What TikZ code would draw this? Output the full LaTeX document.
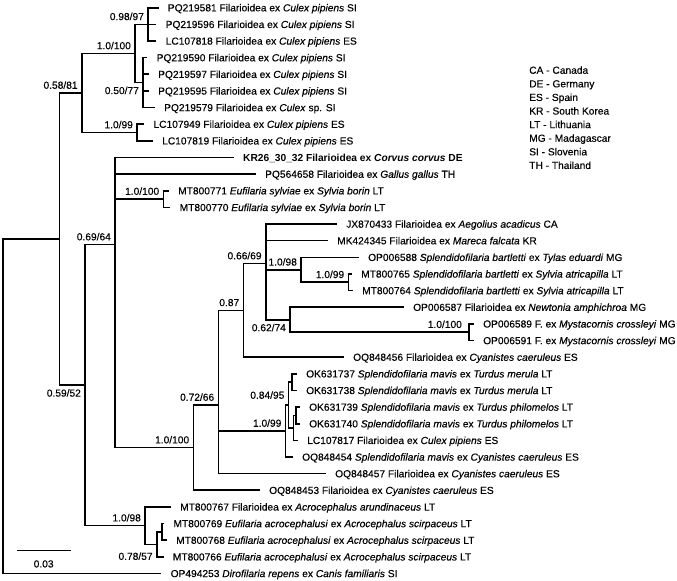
\documentclass[tikz,border=0pt]{standalone}
\usepackage{fontspec}
\setmainfont{Liberation Sans}[UprightFeatures={FakeBold=0.3}, ItalicFeatures={FakeBold=0.3}]
\usepackage{tikz}

\newcommand\lblfont{\fontsize{10.2}{13.6}\selectfont}

\begin{document}
\begin{tikzpicture}[x=1pt, y=-16.64pt,
    br/.style={line width=1.6pt, line cap=rect},
    leaf/.style={anchor=west, inner xsep=10pt, inner ysep=0pt, text height=7.3pt, text depth=0pt, font=\lblfont},
    bs/.style={font=\lblfont}]
    \useasboundingbox (0,0.537) rectangle (677,35.45);

    % tips
    \node[leaf] (l1) at (157.7,1) {PQ219581 Filarioidea ex \textit{Culex pipiens} SI};
    \node[leaf] (l2) at (155.5,2) {PQ219596 Filarioidea ex \textit{Culex pipiens} SI};
    \node[leaf] (l3) at (155.5,3) {LC107818 Filarioidea ex \textit{Culex pipiens} ES};
    \node[leaf] (l4) at (146.5,4) {PQ219590 Filarioidea ex \textit{Culex pipiens} SI};
    \node[leaf] (l5) at (148,5) {PQ219597 Filarioidea ex \textit{Culex pipiens} SI};
    \node[leaf] (l6) at (148,6) {PQ219595 Filarioidea ex \textit{Culex pipiens} SI};
    \node[leaf] (l7) at (154,7) {PQ219579 Filarioidea ex \textit{Culex} sp. SI};
    \node[leaf] (l8) at (143.3,8) {LC107949 Filarioidea ex \textit{Culex pipiens} ES};
    \node[leaf] (l9) at (152,9) {LC107819 Filarioidea ex \textit{Culex pipiens} ES};
    \node[leaf] (l10) at (233,10) {\textbf{KR26\_30\_32 Filarioidea ex \textit{Corvus corvus} DE}};
    \node[leaf] (l11) at (255,11) {PQ564658 Filarioidea ex \textit{Gallus gallus} TH};
    \node[leaf] (l12) at (168,12) {MT800771 \textit{Eufilaria sylviae} ex \textit{Sylvia borin} LT};
    \node[leaf] (l13) at (169.5,13) {MT800770 \textit{Eufilaria sylviae} ex \textit{Sylvia borin} LT};
    \node[leaf] (l14) at (336,14) {JX870433 Filarioidea ex \textit{Aegolius acadicus} CA};
    \node[leaf] (l15) at (327,15) {MK424345 Filarioidea ex \textit{Mareca falcata} KR};
    \node[leaf] (l16) at (358,16) {OP006588 \textit{Splendidofilaria bartletti} ex \textit{Tylas eduardi} MG};
    \node[leaf] (l17) at (351,17) {MT800765 \textit{Splendidofilaria bartletti} ex \textit{Sylvia atricapilla} LT};
    \node[leaf] (l18) at (352,18) {MT800764 \textit{Splendidofilaria bartletti} ex \textit{Sylvia atricapilla} LT};
    \node[leaf] (l19) at (403,19) {OP006587 Filarioidea ex \textit{Newtonia amphichroa} MG};
    \node[leaf] (l20) at (473,20) {OP006589 F. ex \textit{Mystacornis crossleyi} MG};
    \node[leaf] (l21) at (473,21) {OP006591 F. ex \textit{Mystacornis crossleyi} MG};
    \node[leaf] (l22) at (343,22) {OQ848456 Filarioidea ex \textit{Cyanistes caeruleus} ES};
    \node[leaf] (l23) at (296,23) {OK631737 \textit{Splendidofilaria mavis} ex \textit{Turdus merula} LT};
    \node[leaf] (l24) at (296,24) {OK631738 \textit{Splendidofilaria mavis} ex \textit{Turdus merula} LT};
    \node[leaf] (l25) at (299,25) {OK631739 \textit{Splendidofilaria mavis} ex \textit{Turdus philomelos} LT};
    \node[leaf] (l26) at (299,26) {OK631740 \textit{Splendidofilaria mavis} ex \textit{Turdus philomelos} LT};
    \node[leaf] (l27) at (297,27) {LC107817 Filarioidea ex \textit{Culex pipiens} ES};
    \node[leaf] (l28) at (292,28) {OQ848454 \textit{Splendidofilaria mavis} ex \textit{Cyanistes caeruleus} ES};
    \node[leaf] (l29) at (325,29) {OQ848457 Filarioidea ex \textit{Cyanistes caeruleus} ES};
    \node[leaf] (l30) at (259,30) {OQ848453 Filarioidea ex \textit{Cyanistes caeruleus} ES};
    \node[leaf] (l31) at (170,31) {MT800767 Filarioidea ex \textit{Acrocephalus arundinaceus} LT};
    \node[leaf] (l32) at (163.3,32) {MT800769 \textit{Eufilaria acrocephalusi} ex \textit{Acrocephalus scirpaceus} LT};
    \node[leaf] (l33) at (166,33) {MT800768 \textit{Eufilaria acrocephalusi} ex \textit{Acrocephalus scirpaceus} LT};
    \node[leaf] (l34) at (162.7,34) {MT800766 \textit{Eufilaria acrocephalusi} ex \textit{Acrocephalus scirpaceus} LT};
    \node[leaf] (l35) at (160.5,35) {OP494253 \textit{Dirofilaria repens} ex \textit{Canis familiaris} SI};

    % inner nodes (y = mean of the children)
    \coordinate (nE) at (148,2);
    \coordinate (nF) at (143,5.5);
    \coordinate (nC) at (135,3.75);
    \coordinate (nD) at (137,8.5);
    \coordinate (nB) at (81.7,6.125);
    \coordinate (nI) at (163.3,12.5);
    \coordinate (nR) at (348.3,17.5);
    \coordinate (nP) at (301,16.75);
    \coordinate (nS) at (469,20.5);
    \coordinate (nQ) at (290,19.75);
    \coordinate (nO) at (265.7,16.375);
    \coordinate (nM) at (243.3,19.1875);
    \coordinate (nU) at (291.7,23.5);
    \coordinate (nW) at (295.7,25.5);
    \coordinate (nX) at (293.5,26.25);
    \coordinate (nT) at (288.5,24.875);
    \coordinate (nN) at (285.5,26.4375);
    \coordinate (nL) at (218.3,24.875);
    \coordinate (nJ) at (193.3,27.4375);
    \coordinate (nH) at (115,15.234);
    \coordinate (nAA) at (161.7,32.5);
    \coordinate (nZ) at (156.7,33.25);
    \coordinate (nK) at (145,32.125);
    \coordinate (nG) at (85,23.68);
    \coordinate (nA) at (59.3,14.9);
    \coordinate (root) at (3,24.95);

    % Culex clade
    \draw[br] (nE |- l1.west) -- (nE |- l3.west) (nE |- l1.west) -- (l1.west) (nE |- l2.west) -- (l2.west) (nE |- l3.west) -- (l3.west);
    \draw[br] (nF |- l4.west) -- (nF |- l7.west) (nF |- l4.west) -- (l4.west) (nF |- l5.west) -- (l5.west) (nF |- l6.west) -- (l6.west) (nF |- l7.west) -- (l7.west);
    \draw[br] (nC |- nE) -- (nC |- nF) (nC |- nE) -- (nE) node[bs, above left] {0.98/97} (nC |- nF) -- (nF) node[bs, below left] {0.50/77};
    \draw[br] (nD |- l8.west) -- (nD |- l9.west) (nD |- l8.west) -- (l8.west) (nD |- l9.west) -- (l9.west);
    \draw[br] (nB |- nC) -- (nB |- nD) (nB |- nC) -- (nC) node[bs, above left] {1.0/100} (nB |- nD) -- (nD) node[bs, above left] {1.0/99};

    % bird clade
    \draw[br] (nI |- l12.west) -- (nI |- l13.west) (nI |- l12.west) -- (l12.west) (nI |- l13.west) -- (l13.west);
    \draw[br] (nR |- l17.west) -- (nR |- l18.west) (nR |- l17.west) -- (l17.west) (nR |- l18.west) -- (l18.west);
    \draw[br] (nP |- l16.west) -- (nP |- nR) (nP |- l16.west) -- (l16.west) (nP |- nR) -- (nR) node[bs, above left] {1.0/99};
    \draw[br] (nS |- l20.west) -- (nS |- l21.west) (nS |- l20.west) -- (l20.west) (nS |- l21.west) -- (l21.west);
    \draw[br] (nQ |- l19.west) -- (nQ |- nS) (nQ |- l19.west) -- (l19.west) (nQ |- nS) -- (nS) node[bs, above left, xshift=-3pt] {1.0/100};
    \draw[br] (nO |- l14.west) -- (nO |- nQ) (nO |- l14.west) -- (l14.west) (nO |- l15.west) -- (l15.west)
        (nO |- nP) -- (nP) node[bs, above left] {1.0/98} (nO |- nQ) -- (nQ) node[bs, below left] {0.62/74};
    \draw[br] (nM |- nO) -- (nM |- l22.west) (nM |- nO) -- (nO) node[bs, above left] {0.66/69} (nM |- l22.west) -- (l22.west);
    \draw[br] (nU |- l23.west) -- (nU |- l24.west) (nU |- l23.west) -- (l23.west) (nU |- l24.west) -- (l24.west);
    \draw[br] (nW |- l25.west) -- (nW |- l26.west) (nW |- l25.west) -- (l25.west) (nW |- l26.west) -- (l26.west);
    \draw[br] (nX |- nW) -- (nX |- l27.west) (nX |- nW) -- (nW) (nX |- l27.west) -- (l27.west);
    \draw[br] (nT |- nU) -- (nT |- nX) (nT |- nU) -- (nU) (nT |- nX) -- (nX);
    \draw[br] (nN |- nT) -- (nN |- l28.west) (nN |- nT) -- (nT) node[bs, above left, yshift=2pt] {0.84/95} (nN |- l28.west) -- (l28.west);
    \draw[br] (nL |- nM) -- (nL |- l29.west) (nL |- nM) -- (nM) node[bs, above left] {0.87}
        (nL |- nN) -- (nN) node[bs, above left] {1.0/99} (nL |- l29.west) -- (l29.west);
    \draw[br] (nJ |- nL) -- (nJ |- l30.west) (nJ |- nL) -- (nL) node[bs, above left] {0.72/66} (nJ |- l30.west) -- (l30.west);
    \draw[br] (nH |- l10.west) -- (nH |- nJ) (nH |- l10.west) -- (l10.west) (nH |- l11.west) -- (l11.west)
        (nH |- nI) -- (nI) node[bs, above left] {1.0/100} (nH |- nJ) -- (nJ) node[bs, above left] {1.0/100};

    % Acrocephalus clade
    \draw[br] (nAA |- l32.west) -- (nAA |- l33.west) (nAA |- l32.west) -- (l32.west) (nAA |- l33.west) -- (l33.west);
    \draw[br] (nZ |- nAA) -- (nZ |- l34.west) (nZ |- nAA) -- (nAA) (nZ |- l34.west) -- (l34.west);
    \draw[br] (nK |- l31.west) -- (nK |- nZ) (nK |- l31.west) -- (l31.west) (nK |- nZ) -- (nZ) node[bs, below left, yshift=-4pt] {0.78/57};

    % backbone
    \draw[br] (nG |- nH) -- (nG |- nK) (nG |- nH) -- (nH) node[bs, above left] {0.69/64} (nG |- nK) -- (nK) node[bs, above left] {1.0/98};
    \draw[br] (nA |- nB) -- (nA |- nG) (nA |- nB) -- (nB) node[bs, above left] {0.58/81} (nA |- nG) -- (nG) node[bs, below left] {0.59/52};
    \draw[br] (root |- nA) -- (root |- l35.west) (root |- nA) -- (nA) (root |- l35.west) -- (l35.west);

    % scale bar
    \coordinate (sb0) at (17.3,33.63);
    \coordinate (sb1) at (70,33.63);
    \draw[br] (sb0) -- (sb1) node[bs, midway, below=5.5pt] {0.03};

    % country codes
    \node[bs, align=left, anchor=west] (key) at (525.7,7.61) {CA - Canada\\ DE - Germany\\ ES - Spain\\ KR - South Korea\\ LT - Lithuania\\ MG - Madagascar\\ SI - Slovenia\\ TH - Thailand};
\end{tikzpicture}
\end{document}
